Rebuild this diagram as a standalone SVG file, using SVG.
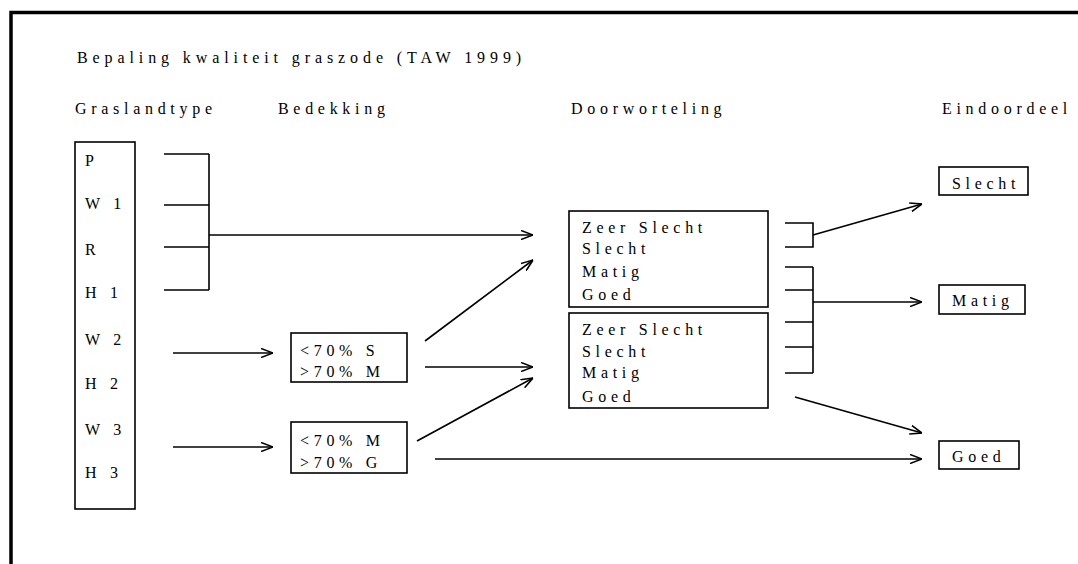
<svg xmlns="http://www.w3.org/2000/svg" width="1078" height="564" viewBox="0 0 1078 564">
<style>
text{font-family:"Liberation Serif","Times New Roman",serif;font-size:16px;fill:#000;letter-spacing:4.7px}
.title{letter-spacing:4.9px}
.box{fill:#fff;stroke:#000;stroke-width:1.6}
.ln{fill:none;stroke:#000;stroke-width:1.6}
.ar{fill:none;stroke:#000;stroke-width:1.6;marker-end:url(#ah)}
</style>
<defs>
<marker id="ah" viewBox="0 0 12 10" refX="12" refY="5" markerWidth="12" markerHeight="10" markerUnits="userSpaceOnUse" orient="auto">
<path d="M0,0.5 L12,5 L0,9.5" fill="none" stroke="#000" stroke-width="1.6"/>
</marker>
</defs>
<rect width="1078" height="564" fill="#fff"/>
<path d="M11,564 V12.5 H1078" fill="none" stroke="#000" stroke-width="3.5"/>
<g id="titles">
<text class="title" x="77" y="63">Bepaling kwaliteit graszode (TAW 1999)</text>
<text x="75" y="114">Graslandtype</text>
<text x="278" y="114">Bedekking</text>
<text x="571" y="114">Doorworteling</text>
<text x="942" y="114">Eindoordeel</text>
</g>
<g id="graslandtype">
<rect class="box" x="75" y="142" width="60" height="367"/>
<text x="85" y="166">P</text>
<text x="85" y="209">W 1</text>
<text x="85" y="255">R</text>
<text x="85" y="298">H 1</text>
<text x="85" y="345">W 2</text>
<text x="85" y="389">H 2</text>
<text x="85" y="435">W 3</text>
<text x="85" y="478">H 3</text>
</g>
<g id="bedekking1">
<rect class="box" x="291" y="333" width="116" height="49"/>
<text x="300" y="356">&lt;70% S</text>
<text x="300" y="377">&gt;70% M</text>
</g>
<g id="bedekking2">
<rect class="box" x="291" y="422" width="116" height="51"/>
<text x="300" y="446">&lt;70% M</text>
<text x="300" y="468">&gt;70% G</text>
</g>
<g id="doorworteling1">
<rect class="box" x="569" y="211" width="199" height="96"/>
<text x="582" y="233">Zeer Slecht</text>
<text x="582" y="254">Slecht</text>
<text x="582" y="277">Matig</text>
<text x="582" y="300">Goed</text>
</g>
<g id="doorworteling2">
<rect class="box" x="569" y="313" width="199" height="95"/>
<text x="582" y="335">Zeer Slecht</text>
<text x="582" y="357">Slecht</text>
<text x="582" y="378">Matig</text>
<text x="582" y="402">Goed</text>
</g>
<g id="eind-slecht">
<rect class="box" x="939" y="167" width="89" height="28"/>
<text x="952" y="189">Slecht</text>
</g>
<g id="eind-matig">
<rect class="box" x="939" y="285" width="86" height="29"/>
<text x="952" y="306">Matig</text>
</g>
<g id="eind-goed">
<rect class="box" x="939" y="441" width="80" height="28"/>
<text x="952" y="462">Goed</text>
</g>
<g id="connectors">
<path class="ln" d="M164,154 H209 M164,205 H209 M164,247 H209 M164,290 H209 M209,154 V290"/>
<path class="ar" d="M209,235 H533"/>
<path class="ar" d="M173,353 H273"/>
<path class="ar" d="M173,447 H273"/>
<path class="ar" d="M425,341 L533,260"/>
<path class="ar" d="M425,367 H533"/>
<path class="ar" d="M417,441 L533,378"/>
<path class="ar" d="M435,459 H922"/>
<path class="ln" d="M785,223 H813 V247 H785"/>
<path class="ar" d="M813,235 L922,204"/>
<path class="ln" d="M785,267 H813 M785,290 H813 M785,322 H813 M785,347 H813 M785,373 H813 M813,267 V373"/>
<path class="ar" d="M813,302 H922"/>
<path class="ar" d="M795,397 L922,433"/>
</g>
</svg>
